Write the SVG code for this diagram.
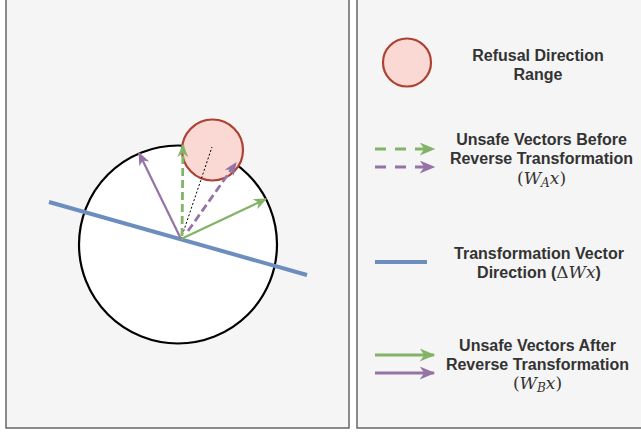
<svg xmlns="http://www.w3.org/2000/svg" width="641" height="432" viewBox="0 0 641 432">
  <style>
    .panel { fill: #f5f5f5; stroke: #666666; stroke-width: 1.5; }
    .label { font-family: "Liberation Sans", Arial, sans-serif; font-weight: bold; font-size: 16px; fill: #333333; text-anchor: middle; }
    .math { font-family: "DejaVu Serif", "Liberation Serif", serif; font-weight: normal; font-size: 17px; }
    .it { font-style: italic; }
    .green { stroke: #82b366; stroke-width: 2.2; fill: none; }
    .purple { stroke: #9673a6; stroke-width: 2.2; fill: none; }
    .dash { stroke-dasharray: 8 4; stroke-width: 2.8; }
    .key { stroke-width: 3; }
    .keydash { stroke-dasharray: 11 9; }
    .blue { stroke: #6c8ebf; stroke-width: 4; fill: none; }
    .refusal { fill: #fad9d5; stroke: #ae4132; stroke-width: 2.2; }
  </style>
  <defs>
    <marker id="headG" viewBox="0 0 12 10" refX="11" refY="5" markerWidth="14" markerHeight="11" markerUnits="userSpaceOnUse" orient="auto">
      <path d="M0,0 L12,5 L0,10 L3.5,5 Z" fill="#82b366"/>
    </marker>
    <marker id="headP" viewBox="0 0 12 10" refX="11" refY="5" markerWidth="14" markerHeight="11" markerUnits="userSpaceOnUse" orient="auto">
      <path d="M0,0 L12,5 L0,10 L3.5,5 Z" fill="#9673a6"/>
    </marker>
    <marker id="keyG" viewBox="0 0 12 10" refX="11" refY="5" markerWidth="17" markerHeight="13" markerUnits="userSpaceOnUse" orient="auto">
      <path d="M0,0 L12,5 L0,10 L3.5,5 Z" fill="#82b366"/>
    </marker>
    <marker id="keyP" viewBox="0 0 12 10" refX="11" refY="5" markerWidth="17" markerHeight="13" markerUnits="userSpaceOnUse" orient="auto">
      <path d="M0,0 L12,5 L0,10 L3.5,5 Z" fill="#9673a6"/>
    </marker>
  </defs>

  <rect width="641" height="432" fill="#ffffff"/>

  <!-- left panel: vector space sketch -->
  <g id="space-panel">
    <rect class="panel" x="6" y="-1" width="343" height="429"/>
  </g>
  <g id="unit-sphere">
    <circle cx="178" cy="244.5" r="99" fill="#ffffff" stroke="#000000" stroke-width="2.2"/>
  </g>
  <g id="refusal-range">
    <circle class="refusal" cx="212.5" cy="150" r="30.5"/>
  </g>

  <g id="connectors">
    <line class="blue" x1="49" y1="202" x2="307" y2="275"/>
    <line x1="181" y1="239" x2="212" y2="147" stroke="#000000" stroke-width="1" stroke-dasharray="2 2"/>
    <line class="purple" x1="181" y1="239" x2="139" y2="153" marker-end="url(#headP)"/>
    <line class="green dash" x1="182" y1="236" x2="183" y2="145" marker-end="url(#headG)"/>
    <line class="purple dash" x1="188" y1="231" x2="236" y2="163" marker-end="url(#headP)"/>
    <line class="green" x1="181" y1="239" x2="266" y2="199" marker-end="url(#headG)"/>
  </g>

  <!-- right panel: legend -->
  <g id="legend-panel">
    <rect class="panel" x="357" y="-1" width="290" height="429"/>
  </g>

  <g id="legend-refusal">
    <circle class="refusal" cx="407" cy="62.5" r="24"/>
    <text class="label" x="538" y="61">Refusal Direction</text>
    <text class="label" x="538" y="79.5">Range</text>
  </g>

  <g id="legend-before">
    <line class="green key keydash" x1="375" y1="149" x2="434" y2="149" marker-end="url(#keyG)"/>
    <line class="purple key keydash" x1="375" y1="167" x2="434" y2="167" marker-end="url(#keyP)"/>
    <text class="label" x="541.5" y="145">Unsafe Vectors Before</text>
    <text class="label" x="541.5" y="164">Reverse Transformation</text>
    <text class="label math" x="541.5" y="184">(<tspan class="it">W</tspan><tspan class="it" font-size="12" dy="3">A</tspan><tspan class="it" dy="-3">x</tspan>)</text>
  </g>

  <g id="legend-delta">
    <line class="blue" x1="375" y1="262" x2="427" y2="262"/>
    <text class="label" x="539" y="259">Transformation Vector</text>
    <text class="label" x="539" y="278">Direction (<tspan class="math">Δ<tspan class="it">Wx</tspan></tspan>)</text>
  </g>

  <g id="legend-after">
    <line class="green key" x1="375" y1="355" x2="434" y2="355" marker-end="url(#keyG)"/>
    <line class="purple key" x1="375" y1="373" x2="434" y2="373" marker-end="url(#keyP)"/>
    <text class="label" x="537.5" y="351">Unsafe Vectors After</text>
    <text class="label" x="537.5" y="369.5">Reverse Transformation</text>
    <text class="label math" x="537.5" y="389">(<tspan class="it">W</tspan><tspan class="it" font-size="12" dy="3">B</tspan><tspan class="it" dy="-3">x</tspan>)</text>
  </g>
</svg>
